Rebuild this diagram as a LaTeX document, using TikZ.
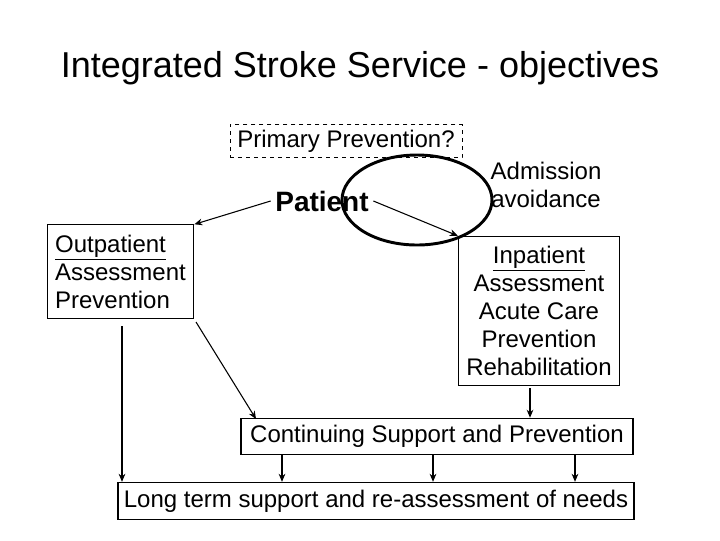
\documentclass[tikz,border=0pt]{standalone}
\usepackage{fontspec}
\setmainfont{Liberation Sans}
\usetikzlibrary{arrows.meta}
\begin{document}
\begin{tikzpicture}[x=0.75pt,y=-0.75pt]
% Styles for boxes and arrows
\tikzset{Box/.style={draw,thick,inner sep=1pt,font=\fontsize{18}{21}\selectfont},
  Link/.style={thick,-{Stealth[length=6pt,width=5pt]}}}
\useasboundingbox (0,0) rectangle (720,540);
% Nodes
\node[font=\fontsize{27}{30}\selectfont] (title) at (360,68) {Integrated Stroke Service - objectives};
\node[Box,draw,thin,dashed,minimum width=174pt,minimum height=25pt] (prim) at (346,141) {Primary Prevention?};
\node[font=\fontsize{21}{24}\bfseries\selectfont] (pat) at (322,201) {Patient};
\node[font=\fontsize{18}{21}\selectfont,align=center] (adm) at (546,185) {Admission\\avoidance};
\node[Box,align=left,minimum width=110pt,minimum height=70pt] (out) at (120.5,271.5) {\underline{Outpatient}\\Assessment\\Prevention};
\node[Box,align=center,minimum width=121pt,minimum height=112pt] (inp) at (539,311) {\underline{Inpatient}\\Assessment\\Acute Care\\Prevention\\Rehabilitation};
\node[Box,very thick,minimum width=294pt,minimum height=27pt] (cont) at (437,436.5) {Continuing Support and Prevention};
\node[Box,minimum width=387pt,minimum height=28pt] (long) at (376,501) {Long term support and re-assessment of needs};
\draw[line width=2.2pt] (417,200) ellipse (75 and 45);
% Free ends of the connectors
\coordinate (o1) at (122,326);
\coordinate (o2) at (196,322);
\coordinate (c1) at (256,419);
\coordinate (i1) at (530,388);
% Edges
\draw[Link] (pat.west) -- (out.north east);
\draw[Link] (pat.east) -- (inp.north west);
\draw[Link] (o1) -- (o1 |- long.north);
\draw[Link] (o2) -- (c1);
\draw[Link] (i1) -- (i1 |- cont.north);
\foreach \x in {282,433,575}
  \draw[Link] (cont.south -| \x,0) -- (long.north -| \x,0);
\end{tikzpicture}
\end{document}
